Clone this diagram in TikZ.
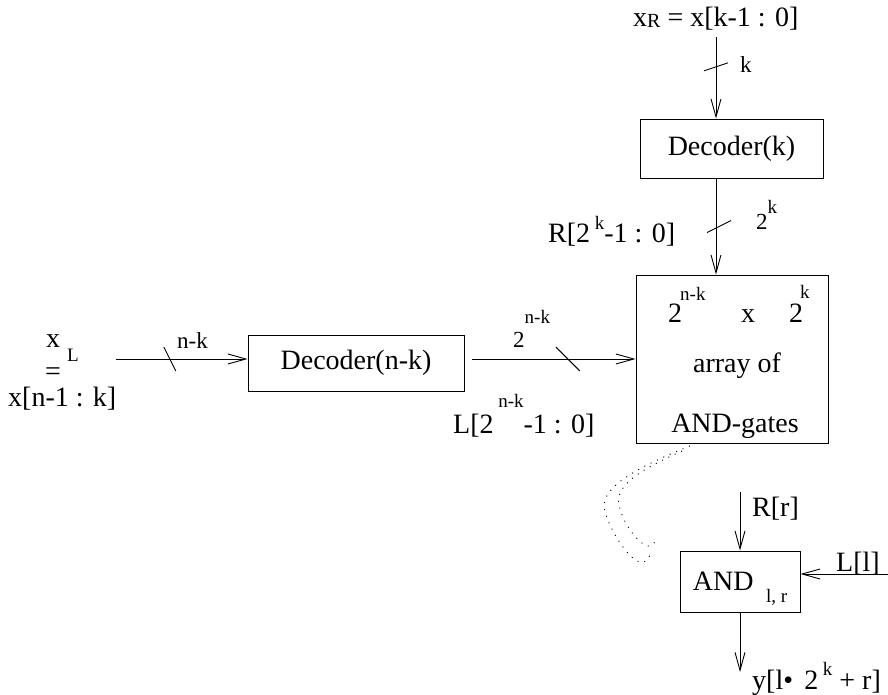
\documentclass[tikz,border=0pt]{standalone}
\usepackage{fontspec}
\setmainfont{Liberation Serif}
\usetikzlibrary{arrows.meta,calc}
\newcommand{\fmain}{\fontsize{28}{32}\selectfont}
\newcommand{\fbus}{\fontsize{23}{26}\selectfont}
\newcommand{\fsup}{\fontsize{19}{21}\selectfont}
\newcommand{\raiseup}[2]{\raisebox{#1}{\fsup #2}}

\begin{document}
\begin{tikzpicture}[x=1pt, y=-1pt, font=\fmain,
  box/.style={draw, line width=0.9pt, inner sep=0pt},
  sig/.style={line width=0.9pt, -{Straight Barb[length=18pt, width=10pt]}},
  lbl/.style={anchor=base west, inner sep=0pt},
  zoomline/.style={line width=0.9pt, dash pattern=on 1pt off 6pt}]
  \useasboundingbox (0,0) rectangle (888,694);
  % decoders, gate array and one single gate
  \node[box, minimum width=183pt, minimum height=59pt] (deck) at (731.5,148.5) {Decoder(k)};
  \node[box, minimum width=216pt, minimum height=56pt] (decnk) at (356,363) {Decoder(n-k)};
  \node[box, minimum width=192pt, minimum height=168pt] (arr) at (732,359) {};
  \node[box, minimum width=120pt, minimum height=61pt] (andg) at (740,581.5)
    {AND\hspace{0.45em}\smash{\raisebox{-12pt}{\fsup l, r}}};

  % text of the gate array
  \node[lbl] (rowtwoa) at (668,322) {2};
  \node[lbl, font=\fsup] (rownk) at (680,300) {n-k};
  \node[lbl] (rowx) at (741,322) {x};
  \node[lbl] (rowtwob) at (789,322) {2};
  \node[lbl, font=\fsup] (rowk) at (800,298) {k};
  \node[anchor=base, inner sep=0pt] (arrof) at (737,372) {array of};
  \node[anchor=base, inner sep=0pt] (andgates) at (735,432) {AND-gates};

  % inputs and buses
  \node[lbl] (xR) at (633,26) {x\raisebox{-1pt}{\fontsize{20}{21}\selectfont R} = x[k-1 : 0]};
  \node[lbl, font=\fbus] (klbl) at (740,72) {k};
  \node[lbl] (Rbus) at (548,242) {R[2\,\raiseup{13pt}{k}-1 : 0]};
  \node[lbl, font=\fbus] (kbus) at (756,229) {2\raiseup{16pt}{k}};
  \node[lbl] (xL) at (46,347) {x};
  \node[lbl, font=\fsup] (xLsub) at (67,361) {L};
  \node[lbl] (xLeq) at (45,380) {\smash{=}};
  \node[lbl] (xLrange) at (8,406) {x[n-1 : k]};
  \node[lbl, font=\fbus] (nklbl) at (177,348) {n-k};
  \node[lbl, font=\fbus] (nkbus) at (513,347) {2\raiseup{24pt}{n-k}};
  \node[lbl] (Lbus) at (453,433) {L[2\,\raiseup{26pt}{n-k}-1 : 0]};
  \node[lbl] (Rr) at (752,516) {R[r]};
  \node[lbl] (Ll) at (836,571) {L[l]};
  \node[lbl] (yl) at (752,689) {y[l•\hspace{0.4em}2\,\raiseup{14pt}{k}\ + r]};

  \coordinate (xRin) at (716,37);
  \coordinate (xLin) at (116,359);
  \coordinate (Rrin) at (740,492);
  \coordinate (Llin) at (888,574);
  \coordinate (yend) at (740,672);

  \draw[sig] (xRin) -- coordinate[pos=0.366] (tick1) (xRin |- deck.north);
  \draw[sig] (deck.south -| xRin) -- coordinate[pos=0.5] (tick2) (arr.north -| xRin);
  \draw[sig] (xLin) -- coordinate[pos=0.409] (tick3) (decnk.west |- xLin);
  \draw[sig] ([xshift=8pt]decnk.east |- xLin) -- coordinate[pos=0.585] (tick4) (arr.west |- xLin);
  \draw[sig] (Rrin) -- (andg.north);
  \draw[sig] (Llin) -- (andg.east |- Llin);
  \draw[sig] (andg.south) -- (yend);
  \foreach \t/\ax/\ay/\bx/\by in {tick1/-12/4/12/-4, tick2/-9/6/15/-6, tick3/-6/-12/6/12, tick4/-12/-12/12/12}
    \draw[line width=0.9pt] ($(\t)+(\ax,\ay)$) -- ($(\t)+(\bx,\by)$);

  % zoom marks from the array down to the gate
  \draw[zoomline] (690,446) .. controls (630,470) and (598,490) .. (605,512)
    .. controls (612,535) and (630,560) .. (640,562) .. controls (645,563) and (648,560) .. (650,555);
  \draw[zoomline] (682,451) .. controls (640,470) and (615,485) .. (619,505)
    .. controls (623,525) and (640,545) .. (648,546) .. controls (652,546) and (655,543) .. (657,538);
\end{tikzpicture}
\end{document}
